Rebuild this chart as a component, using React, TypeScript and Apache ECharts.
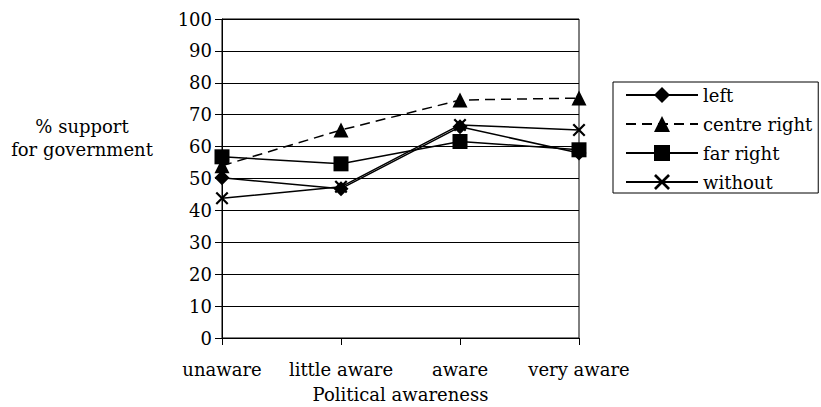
import React, { useEffect, useRef } from "react";
import * as echarts from "echarts";

const categories = ["unaware", "little aware", "aware", "very aware"];
const leftValues = [50.2, 46.8, 66.2, 58];
const centreRightValues = [54, 65.2, 74.6, 75.2];
const farRightValues = [56.8, 54.6, 61.6, 59];
const withoutValues = [43.8, 47.4, 66.8, 65.2];
const yTicks = { min: 0, max: 100, interval: 10 };

const FONT = "DejaVu Serif";
const X_PATH = "path://M0,1.2 L1.2,0 L10,8.8 L8.8,10 Z M8.8,0 L10,1.2 L1.2,10 L0,8.8 Z";

export default function App() {
  const ref = useRef<HTMLDivElement>(null);
  useEffect(() => {
    if (!ref.current) return;
    const chart = echarts.init(ref.current, null, { renderer: "svg" });
    const base = (name: string, data: number[], symbol: string, size: number, dashed = false) => ({
      name,
      type: "line",
      data,
      symbol,
      symbolSize: size,
      showAllSymbol: true,
      lineStyle: { color: "#000", width: 1.5, type: dashed ? [10, 6] : "solid" },
      itemStyle: { color: "#000", borderColor: "#000", borderWidth: 0 },
      emphasis: { disabled: true },
    });
    chart.setOption({
      animation: false,
      backgroundColor: "#fff",
      textStyle: { fontFamily: FONT, color: "#000" },
      grid: {
        left: 222,
        right: 242,
        top: 19,
        bottom: 69,
        show: true,
        borderColor: "#000",
        borderWidth: 1,
        containLabel: false,
        outerBoundsMode: "none",
      },
      xAxis: {
        type: "category",
        data: categories,
        boundaryGap: false,
        axisLine: { lineStyle: { color: "#000", width: 1 } },
        axisTick: { show: true, length: 7, lineStyle: { color: "#000" } },
        axisLabel: { color: "#000", fontFamily: FONT, fontSize: 18, margin: 22, interval: 0 },
        name: "Political awareness",
        nameLocation: "middle",
        nameGap: 47,
        nameTextStyle: { color: "#000", fontFamily: FONT, fontSize: 18 },
      },
      yAxis: {
        type: "value",
        min: yTicks.min,
        max: yTicks.max,
        interval: yTicks.interval,
        axisLine: { show: true, lineStyle: { color: "#000", width: 1 } },
        axisTick: { show: true, length: 7, lineStyle: { color: "#000" } },
        axisLabel: { color: "#000", fontFamily: FONT, fontSize: 18, margin: 10 },
        splitLine: { show: true, lineStyle: { color: "#000", width: 1 } },
      },
      legend: {
        left: 613,
        top: 82,
        orient: "vertical",
        borderColor: "#000",
        borderWidth: 1,
        padding: [4, 6, 2, 12],
        itemWidth: 72,
        itemHeight: 20,
        itemGap: 11,
        textStyle: { color: "#000", fontFamily: FONT, fontSize: 18 },
        data: ["left", "centre right", "far right", "without"],
      },
      graphic: [
        {
          type: "text",
          x: 82,
          y: 138,
          style: {
            text: "% support\nfor government",
            fontFamily: FONT,
            fontSize: 18,
            fill: "#000",
            align: "center",
            verticalAlign: "middle",
            lineHeight: 23,
          },
        },
      ],
      series: [
        base("left", leftValues, "diamond", 15),
        base("centre right", centreRightValues, "triangle", 15, true),
        base("far right", farRightValues, "rect", 15),
        base("without", withoutValues, X_PATH, 13),
      ],
    });
    return () => chart.dispose();
  }, []);
  return <div ref={ref} style={{ position: "fixed", left: 0, top: 0, width: 821, height: 407 }} />;
}
